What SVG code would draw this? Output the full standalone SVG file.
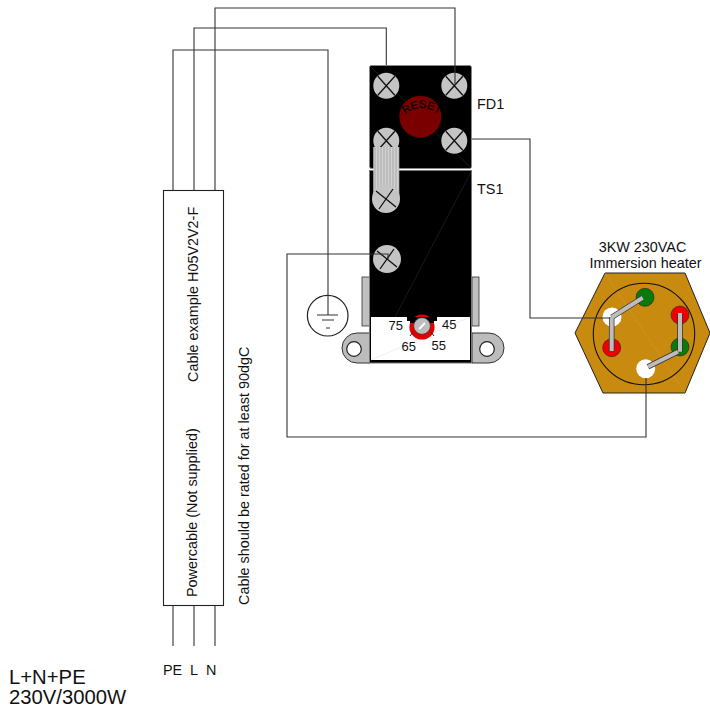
<svg xmlns="http://www.w3.org/2000/svg" width="710" height="713" viewBox="0 0 710 713">
<defs>
<pattern id="strap" width="3" height="10" patternUnits="userSpaceOnUse"><rect width="3" height="10" fill="#bcbcbc"/><rect x="1" width="1" height="10" fill="#d2d2d2"/></pattern>
<g id="screw"><circle r="13" fill="#c4c4c4"/><path d="M-8.500 -9.500L8.500 9.500M-8.500 9.500L8.500 -9.500" stroke="#111" stroke-width="1.300" fill="none"/></g>
<g id="screwL"><circle r="14" fill="#c4c4c4"/><path d="M-10 -8L10 8M-7 10L7 -10" stroke="#111" stroke-width="1.300" fill="none"/></g>
</defs>
<style>
text{font-family:"Liberation Sans",Arial,sans-serif;fill:#111}
.w{fill:none;stroke:#333;stroke-width:1.100}
.t{font-size:14.400px}
.s{font-size:13px}
.bo{stroke:#333;stroke-width:5.500;fill:none}
.bi{stroke:#bdbdbd;stroke-width:4;fill:none}
</style>
<rect width="710" height="713" fill="#fff"/>
<g id="cable">
<rect x="163.500" y="190.500" width="60" height="415" fill="#fff" stroke="#222" stroke-width="1.100"/>
<text class="t" transform="translate(198,382) rotate(-90)">Cable example H05V2V2-F</text>
<text class="t" transform="translate(197,597) rotate(-90)">Powercable (Not supplied)</text>
<text class="t" transform="translate(249,605) rotate(-90)">Cable should be rated for at least 90dgC</text>
<text class="t" x="163" y="675">PE</text><text class="t" x="190" y="675">L</text><text class="t" x="206" y="675">N</text>
</g>
<g id="mains-label">
<text x="9" y="684" font-size="20.300">L+N+PE</text>
<text x="9" y="704" font-size="20.300">230V/3000W</text>
</g>
<g id="earth">
<circle cx="327.700" cy="315.700" r="20.300" fill="#fff" stroke="#222" stroke-width="1.200"/>
<path d="M317 315H338M322 320H334M326 328H330" stroke="#333" stroke-width="1.200" fill="none"/>
</g>
<g id="FD1">
<rect x="369.500" y="65.500" width="102" height="103" rx="2" fill="#000" stroke="#888" stroke-width="1"/>
<path d="M370 66L471 168" stroke="#2a2a2a" stroke-width="0.600"/>
<circle cx="420.300" cy="116.700" r="21" fill="#7a0000"/>
<path id="resetArc" d="M407 113Q421 103 437 113" fill="none"/>
<text font-size="11" stroke="#000" stroke-width="0.200" text-anchor="middle" style="fill:#000"><textPath href="#resetArc" startOffset="50%">RESET</textPath></text>
<use href="#screw" x="386.300" y="85.700"/>
<use href="#screw" x="454.300" y="85.700"/>
<use href="#screw" x="386.300" y="140.700"/>
<use href="#screw" x="454.300" y="140.700"/>
<text class="t" x="477" y="109">FD1</text>
</g>
<g id="TS1">
<rect x="362" y="277" width="8" height="49" fill="#c0c0c0" stroke="#333" stroke-width="0.800"/>
<rect x="472" y="277" width="7" height="49" fill="#c0c0c0" stroke="#333" stroke-width="0.800"/>
<path d="M370 333H357A15 15 0 0 0 357 363H370Z" fill="#bcbcbc" stroke="#333"/>
<path d="M472 333H489A15 15 0 0 1 489 363H472Z" fill="#bcbcbc" stroke="#333"/>
<circle cx="354" cy="349" r="7.300" fill="#fff" stroke="#222" stroke-width="1.200"/>
<circle cx="487" cy="349" r="7.300" fill="#fff" stroke="#222" stroke-width="1.200"/>
<rect x="369.500" y="170.500" width="102" height="192.500" fill="#000" stroke="#777" stroke-width="1"/>
<rect x="371" y="317" width="99" height="43" fill="#fff"/>
<path d="M371 360L470 317" stroke="#ddd" stroke-width="0.500"/>
<path d="M395 317L471 172" stroke="#2a2a2a" stroke-width="0.600"/>
<circle cx="422" cy="327" r="12.600" fill="#e00000"/>
<path d="M407 317h30v4h-3v2h-24v-2h-3z" fill="#000"/>
<path d="M410 336L413 332M434 336L431 332" stroke="#222"/>
<circle cx="422" cy="326" r="8.300" fill="#bdbdbd" stroke="#333" stroke-width="0.600"/>
<path d="M419 329L425 323" stroke="#fff" stroke-width="2"/>
<rect x="373.300" y="147" width="26" height="52" fill="url(#strap)"/>
<use href="#screwL" x="386" y="199"/>
<use href="#screwL" x="387" y="259"/>
<text class="s" x="388.500" y="330">75</text><text class="s" x="442" y="329">45</text>
<text class="s" x="401.500" y="351">65</text><text class="s" x="431.500" y="350">55</text>
<text class="t" x="477" y="194">TS1</text>
</g>
<g id="heater">
<text class="t" x="642.500" y="252" text-anchor="middle">3KW 230VAC</text>
<text class="t" x="645.500" y="268" text-anchor="middle">Immersion heater</text>
<path d="M605 273H685L710 333L685 393H603L575 333Z" fill="#c98a10" stroke="#222" stroke-width="1"/>
<path d="M605 273L685 393" stroke="#d69b2e" stroke-width="0.500" fill="none"/>
<circle cx="644" cy="334" r="50.700" fill="none" stroke="#111" stroke-width="1.100"/>
<circle cx="645" cy="297.300" r="9" fill="#0a7a0a" stroke="#222" stroke-width="0.600"/>
<circle cx="680" cy="315" r="9" fill="#f00000" stroke="#222" stroke-width="0.600"/>
<circle cx="680" cy="347" r="9" fill="#0a7a0a" stroke="#222" stroke-width="0.600"/>
<circle cx="611.700" cy="347.700" r="9" fill="#f00000" stroke="#222" stroke-width="0.600"/>
<circle cx="612" cy="317" r="9.500" fill="#fff"/>
<circle cx="645.700" cy="368.700" r="9.500" fill="#fff"/>
<path class="bo" d="M611.700 317.300L642.700 297.700M611.700 317.300V351M680 313V351.700M678 351.700L648 366.700"/>
<path class="bi" d="M611.700 317.300L642.700 297.700M611.700 317.300V351M680 313V351.700M678 351.700L648 366.700"/>
</g>
<g id="connectors">
<path class="w" d="M173 190V50H328V315"/>
<path class="w" d="M194 190V28H386.300V65"/>
<path class="w" d="M215 190V8H455V85"/>
<path class="w" d="M472 139H530V318H610"/>
<path class="w" d="M388 259V254H287V437H646V378"/>
<path class="w" d="M173 606V646M194 606V646M215 606V646"/>
</g>
</svg>
